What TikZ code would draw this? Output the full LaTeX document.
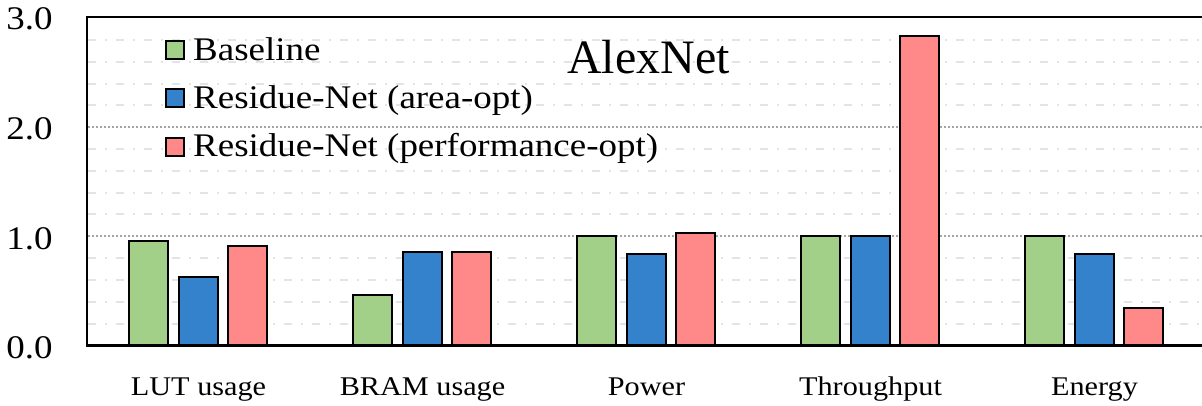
\documentclass[tikz,border=0pt]{standalone}
\usepackage{fontspec}
\setmainfont{Liberation Serif}[FakeStretch=1.12]
\newfontfamily\titlefont{Liberation Serif}
\definecolor{basegreen}{RGB}{163,208,136}
\definecolor{areablue}{RGB}{53,130,204}
\definecolor{perfred}{RGB}{255,136,136}
\definecolor{minorgrid}{RGB}{228,228,228}
\definecolor{majorgrid}{RGB}{165,165,165}
\begin{document}
\begin{tikzpicture}[x=1pt,y=-1pt,
  bar/.style={draw=black,line width=2pt},
  minorline/.style={minorgrid,line width=2pt,dash pattern=on 8pt off 9pt on 2pt off 9pt},
  majorline/.style={majorgrid,line width=1.6pt,dash pattern=on 1.5pt off 2.5pt},
  axisline/.style={black,line width=2.6pt},
  ticklabel/.style={anchor=base east,inner sep=0pt,font=\fontsize{33}{33}\selectfont},
  catlabel/.style={anchor=base,inner sep=0pt,font=\fontsize{27}{27}\selectfont},
  legbox/.style={draw=black,line width=2pt,minimum size=18pt,inner sep=0pt},
  legtext/.style={anchor=base west,inner sep=0pt,font=\fontsize{33}{33}\selectfont}]
\useasboundingbox (0,0) rectangle (1202,406);
\def\yz{345.3}
\def\ys{109}
% minor grid every 0.2
\foreach \v in {0.2,0.4,0.6,0.8,1.2,1.4,1.6,1.8,2.2,2.4,2.6,2.8}
  \draw[minorline] (88,{\yz-\ys*\v}) -- (1202,{\yz-\ys*\v});
% major grid at 1.0 and 2.0
\foreach \v in {1,2}
  \draw[majorline] (88,{\yz-\ys*\v}) -- (1202,{\yz-\ys*\v});
% bars: baseline / area-opt / performance-opt
\foreach \g/\a/\b/\c/\lab in {0/0.957/0.627/0.911/LUT usage,
                               1/0.46/0.86/0.86/BRAM usage,
                               2/1.0/0.84/1.03/Power,
                               3/1.0/1.0/2.84/Throughput,
                               4/1.0/0.84/0.345/Energy}{
  \pgfmathsetmacro\cx{198.5+224*\g}
  \draw[bar,fill=basegreen] ({\cx-69.5},\yz) rectangle ({\cx-30.5},{\yz-\ys*\a});
  \draw[bar,fill=areablue] ({\cx-19.5},\yz) rectangle ({\cx+19.5},{\yz-\ys*\b});
  \draw[bar,fill=perfred] ({\cx+29.5},\yz) rectangle ({\cx+68.5},{\yz-\ys*\c});
  \node[catlabel] (cat\g) at (\cx,395) {\lab};
}
% frame and axes
\draw[axisline] (1202,17.2) -- (87,17.2) -- (87,\yz) -- (1202,\yz);
% y tick labels
\node[ticklabel] (t3) at (52.7,29.3) {3.0};
\node[ticklabel] (t2) at (52.7,139.3) {2.0};
\node[ticklabel] (t1) at (52.7,249.5) {1.0};
\node[ticklabel] (t0) at (52.7,358.3) {0.0};
% legend
\node[legbox,fill=basegreen] (lg1) at (175,50.3) {};
\node[legbox,fill=areablue] (lg2) at (175,98.5) {};
\node[legbox,fill=perfred] (lg3) at (175,146.7) {};
\node[legtext] (lt1) at (193,61) {Baseline};
\node[legtext] (lt2) at (193,108.8) {Residue-Net (area-opt)};
\node[legtext] (lt3) at (193,157) {Residue-Net (performance-opt)};
% title
\node[anchor=base west,inner sep=0pt,font=\titlefont\fontsize{48}{48}\selectfont] (title) at (567,74) {AlexNet};
\end{tikzpicture}
\end{document}
